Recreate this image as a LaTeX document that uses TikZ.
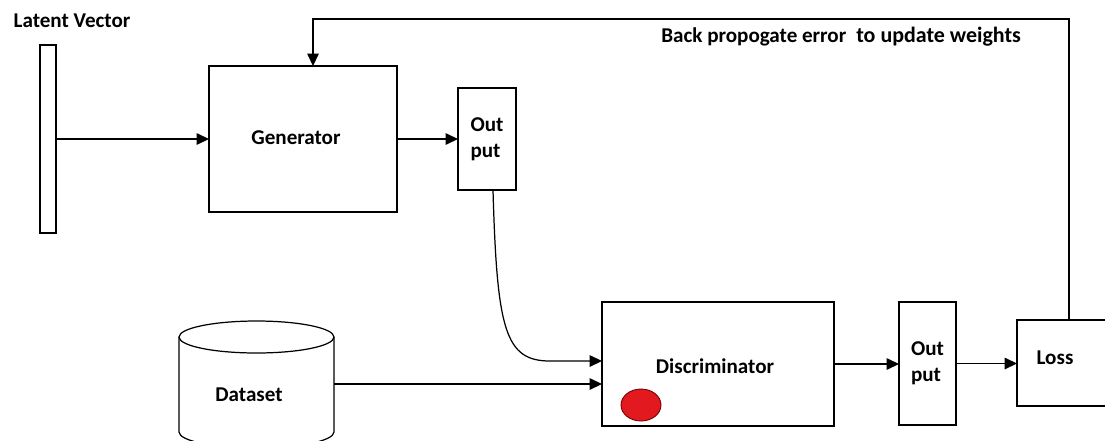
\documentclass[tikz,border=0pt]{standalone}
\usepackage{fontspec}
\setmainfont{Carlito}
\usetikzlibrary{arrows.meta}
\definecolor{dotred}{RGB}{226,25,30}

\begin{document}
\begin{tikzpicture}[x=0.02cm, y=-0.02cm,
    box/.style={draw, line width=0.7pt, inner sep=0pt, outer sep=0pt, align=left, font=\fontsize{12}{15}\selectfont\bfseries},
    lbl/.style={inner sep=0pt, font=\fontsize{12}{15}\selectfont\bfseries},
    arr/.style={-{Triangle[length=7pt,width=6.5pt]}, line width=0.7pt}]
    \useasboundingbox (0,0) rectangle (1105,440);

    % generator side
    \node[lbl] (latlbl) at (72,21) {Latent Vector};
    \node[box, minimum width=0.32cm, minimum height=3.76cm] (latent) at (48,139) {};
    \node[box, minimum width=3.76cm, minimum height=2.92cm] (gen) at (303,139) {};
    \node[lbl] (gentxt) at (296,138) {Generator};
    \node[box, minimum width=1.16cm, minimum height=2.04cm] (out1) at (487,139) {Out\\put};

    \draw[arr] (latent.east) -- (gen.west);
    \draw[arr] (gen.east) -- (out1.west);

    % dataset
    \draw[line width=0.7pt] (179,337) -- (179,432) arc (180:360:1.55cm and 0.32cm) -- (334,337);
    \draw[line width=0.7pt] (256.5,337) ellipse (1.55cm and 0.32cm);
    \coordinate (dsout) at (334,384);
    \node[lbl] (dataset) at (249,395) {Dataset};

    % discriminator side
    \node[box, minimum width=4.64cm, minimum height=2.48cm] (disc) at (718,364) {};
    \node[lbl] (disctxt) at (715,366) {Discriminator};
    \draw[draw=red!45!black, fill=dotred, line width=0.5pt] (641,405) ellipse (0.4cm and 0.32cm);
    \node[box, minimum width=1.14cm, minimum height=2.46cm] (out2) at (927.5,363.5) {Out\\put};
    \node[box, minimum width=2.08cm, minimum height=1.72cm] (loss) at (1069,363) {};
    \node[lbl] (losstxt) at (1055,358) {Loss};

    \draw[arr] ([xshift=0.12cm]out1.south) .. controls (497,330) and (505,361) .. (550,361) -- (disc.west |- 0,361);
    \draw[arr] (dsout) -- (disc.west |- dsout);
    \draw[arr] (disc.east) -- (out2.west |- disc.east);
    \draw[arr] (out2.east) -- (loss.west |- out2.east);

    % feedback
    \draw[arr] (loss.north) |- (313,19) -- (gen.north -| 313,0);
    \node[lbl, anchor=west] (backtxt) at (661,37) {Back propogate error\hspace{0.25em} {\fontsize{12.5}{15}\selectfont to update weights}};
\end{tikzpicture}
\end{document}
